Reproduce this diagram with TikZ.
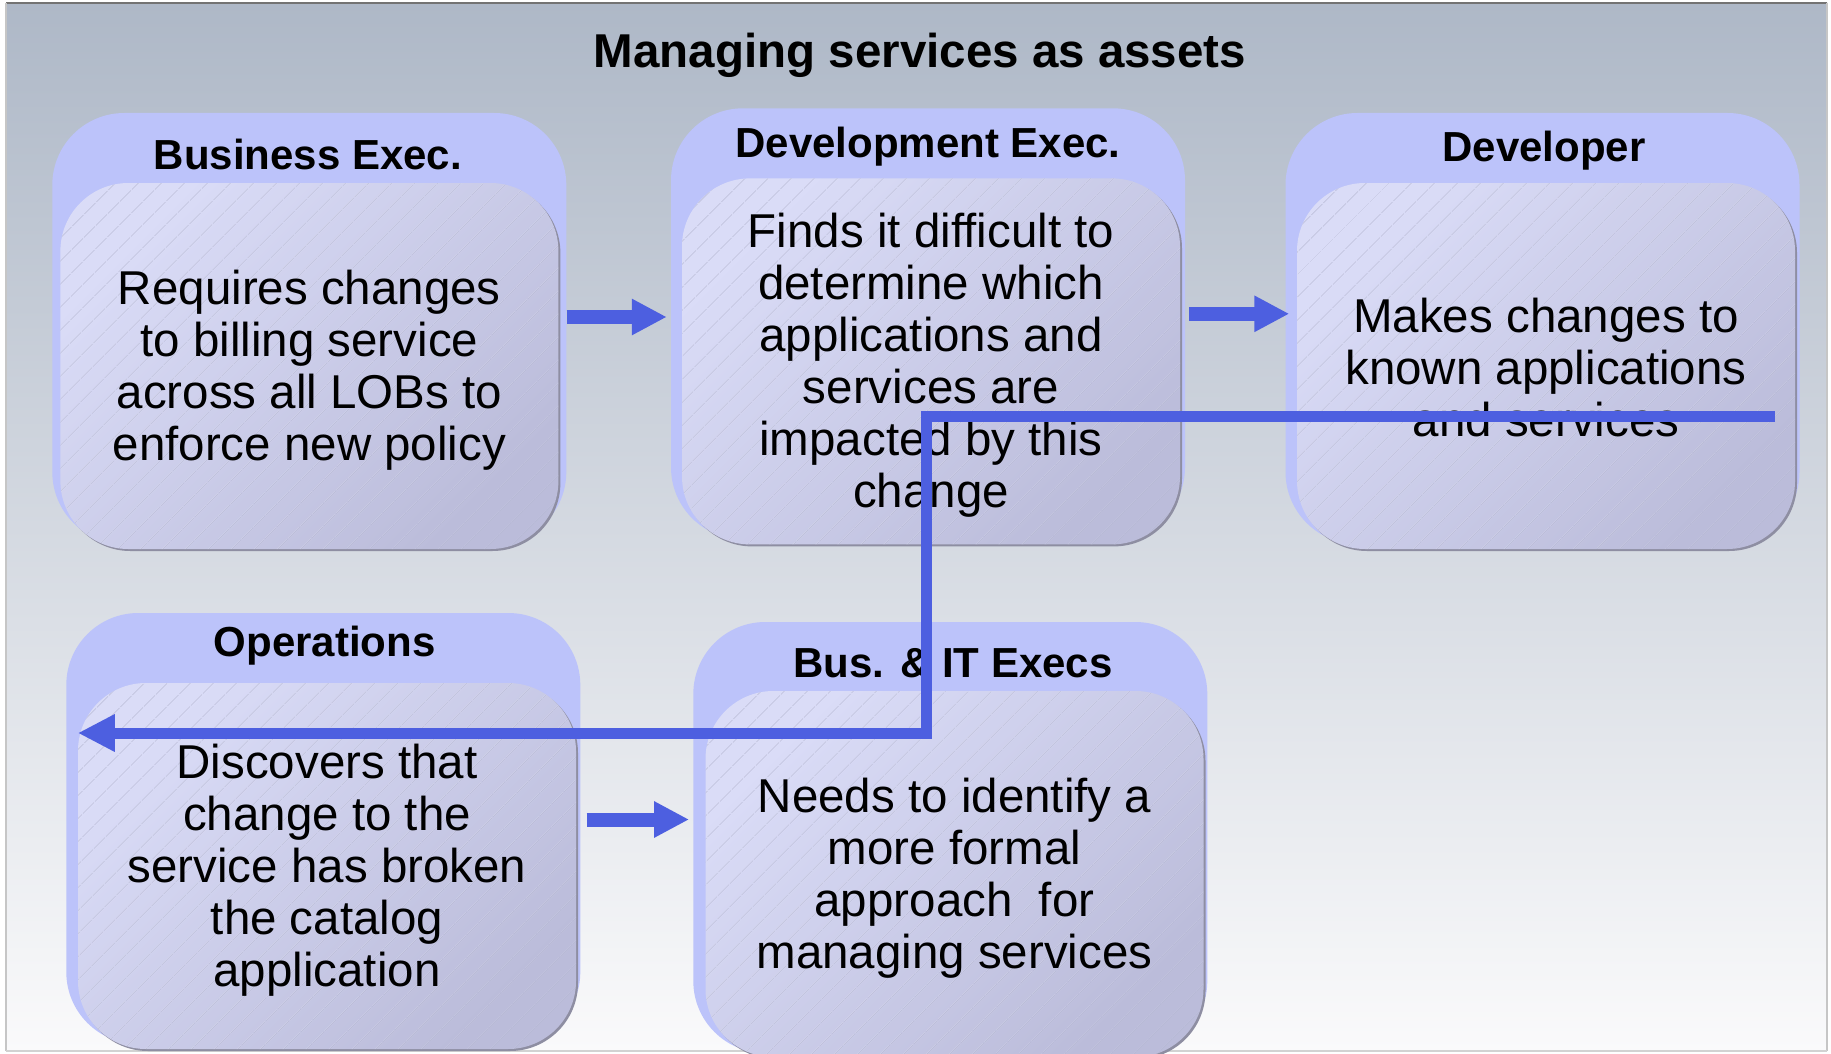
\documentclass[tikz,border=0pt]{standalone}
\usepackage{fontspec}
\setmainfont{Liberation Sans}
\usetikzlibrary{arrows.meta,patterns.meta}
\definecolor{bgtop}{HTML}{AEB8C7}
\definecolor{bgbot}{HTML}{FAFAFB}
\definecolor{hdrfill}{HTML}{BCC3FA}
\definecolor{boxlight}{HTML}{DADCF7}
\definecolor{boxdark}{HTML}{BBBCDA}
\definecolor{shadowgray}{HTML}{8E8EA2}
\definecolor{hatchc}{HTML}{B6B8D4}
\definecolor{arrowblue}{HTML}{4D5FE0}
\newcommand\mybody{\fontsize{47.5}{52}\selectfont}
\newcommand\myhead{\fontsize{42}{46}\selectfont\bfseries}
\newcommand\mytitle{\fontsize{47.5}{52}\selectfont\bfseries}
\tikzset{
  outerbox/.style={rectangle, rounded corners=72pt, minimum width=514pt,
    minimum height=431pt, fill=hdrfill, inner sep=0pt},
  innerbox/.style={rectangle, rounded corners=68pt, minimum width=498pt,
    minimum height=366pt, inner sep=0pt, top color=boxlight,
    bottom color=boxdark, shading angle=45,
    preaction={fill=shadowgray, transform canvas={xshift=2pt,yshift=-2pt}},
    postaction={pattern={Lines[angle=45,distance=17pt,line width=0.8pt]},
      pattern color=hatchc}},
  bodytext/.style={align=center, font=\mybody, inner sep=0pt},
  header/.style={font=\myhead, text height=30pt, text depth=0pt, inner sep=0pt},
  blockarrow/.style={draw=arrowblue, line width=14pt,
    -{Triangle[length=35pt,width=34pt]}},
  flowline/.style={draw=arrowblue, line width=11pt, line join=miter,
    -{Triangle[length=37pt,width=35pt]}},
}
\begin{document}
\begin{tikzpicture}[x=1pt,y=-1pt]
\useasboundingbox (0,0) rectangle (1831,1054);
\fill[white] (0,0) rectangle (1831,1054);
\shade[top color=bgtop, bottom color=bgbot] (6,3) rectangle (1827,1051);
\draw[line width=2pt, color=gray!90!black] (6,3) -- (1827,3);
\draw[line width=1.5pt, color=gray!45] (6,3) -- (6,1051);
\draw[line width=1.5pt, color=gray!45] (1827,3) -- (1827,1051);
\draw[line width=1.5pt, color=gray!35] (6,1051) -- (1827,1051);

\node[font=\mytitle, text height=34pt, text depth=0pt, inner sep=0pt] (title) at (920,51) {Managing services as assets};

% Box 1
\node[outerbox] (b1o) at (309.3,328.5) {};
\node[innerbox] (b1i) at (309.4,366) {};
\node[bodytext] (b1t) at ([yshift=-4pt]b1i.center) {Requires changes\\to billing service\\across all LOBs to\\enforce new policy};
\node[header] (b1h) at (308,154) {Business Exec.};

% Box 2
\node[outerbox] (b2o) at (928,323.8) {};
\node[innerbox] (b2i) at (931,361.4) {};
\node[bodytext] (b2t) at ([yshift=-4pt]b2i.center) {Finds it difficult to\\determine which\\applications and\\services are\\impacted by this\\change};
\node[header] (b2h) at (928,142.5) {Development Exec.};

% Box 3
\node[outerbox] (b3o) at (1542.5,328.5) {};
\node[innerbox] (b3i) at (1546,366) {};
\node[bodytext] (b3t) at ([yshift=-2pt]b3i.center) {Makes changes to\\known applications\\and services};
\node[header] (b3h) at (1544,146) {Developer};

% Box 4
\node[outerbox] (b4o) at (323.3,828.5) {};
\node[innerbox] (b4i) at (327,866) {};
\node[bodytext] (b4t) at ([yshift=-4pt]b4i.center) {Discovers that\\change to the\\service has broken\\the catalog\\application};
\node[header] (b4h) at (324.6,641) {Operations};

% Box 5
\node[outerbox] (b5o) at (950.3,837.5) {};
\node[innerbox] (b5i) at (954.5,874) {};
\node[bodytext] (b5t) at ([yshift=-4pt]b5i.center) {Needs to identify a\\more formal\\approach\ \ for\\managing services};
\node[header] (b5h) at (953,662) {Bus. \& IT Execs};

% block arrows
\draw[blockarrow, shorten >=4pt] ([yshift=11.5pt]b1o.east) -- ([yshift=11.5pt]b1o.east -| b2o.west);
\draw[blockarrow] ([xshift=4pt,yshift=10pt]b2o.east) -- ([xshift=4pt,yshift=10pt]b2o.east -| b3o.west);
\draw[blockarrow, shorten >=10pt] ([xshift=6pt,yshift=9pt]b4o.east) -- ([xshift=6pt,yshift=9pt]b4o.east -| b5o.west);

% flow line
\coordinate (c1) at (1775,416);
\coordinate (bend) at (926.5,733);
\coordinate (c2) at (b4i.west |- bend);
\draw[flowline] (c1) -| (bend) -- (c2);
\end{tikzpicture}
\end{document}
